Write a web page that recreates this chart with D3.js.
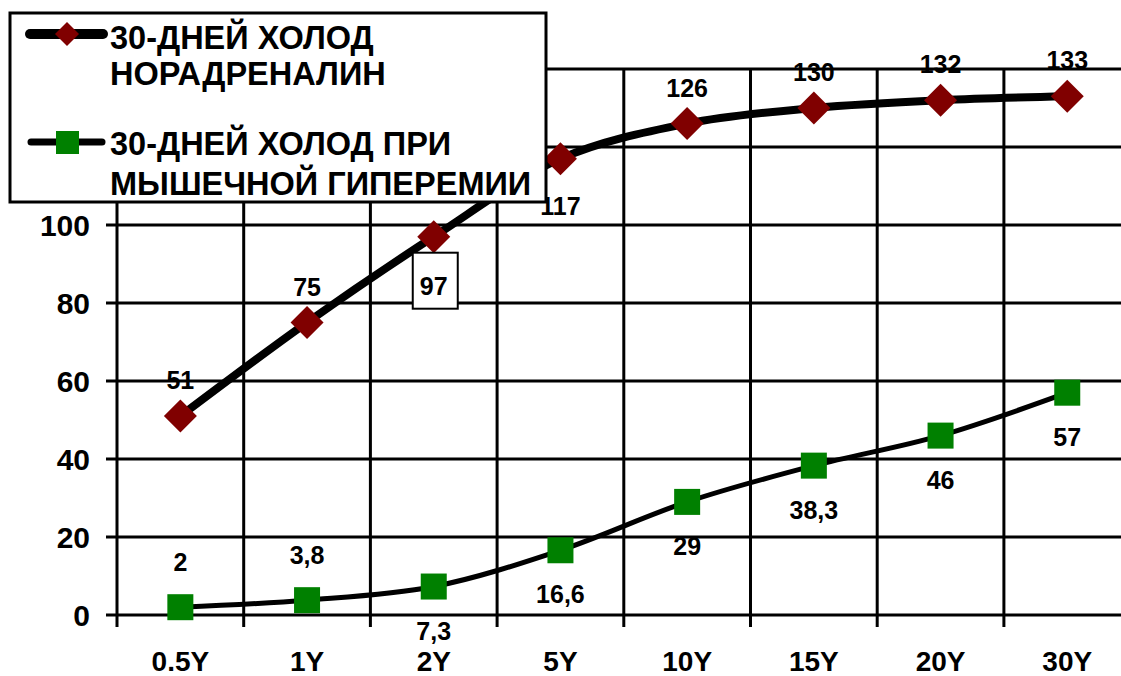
<!DOCTYPE html>
<html>
<head>
<meta charset="utf-8">
<script src="https://cdn.jsdelivr.net/npm/d3@7"></script>
<style>
  body { margin: 0; background: #fff; }
  text { font-family: "Liberation Sans", Arial, sans-serif; font-weight: bold; fill: #000; }
</style>
</head>
<body>
<svg id="chart" width="1121" height="676"></svg>
<script>
// Data
const categories = ["0.5Y", "1Y", "2Y", "5Y", "10Y", "15Y", "20Y", "30Y"];
const noradrenaline = [51, 75, 97, 117, 126, 130, 132, 133];
const hyperemia = [2, 3.8, 7.3, 16.6, 29, 38.3, 46, 57];
const yTickValues = [0, 20, 40, 60, 80, 100, 120, 140];
const legendNoradrenaline = ["30-ДНЕЙ ХОЛОД", "НОРАДРЕНАЛИН"];
const legendHyperemia = ["30-ДНЕЙ ХОЛОД ПРИ", "МЫШЕЧНОЙ ГИПЕРЕМИИ"];

const svg = d3.select("#chart");
const W = 1121, H = 676;
svg.append("rect").attr("width", W).attr("height", H).attr("fill", "#fff");

const x = d3.scaleBand().domain(categories).range([117, 1130.6]).paddingInner(0).paddingOuter(0);
const y = d3.scaleLinear().domain([0, 140]).range([615, 69]);
const cx = c => x(c) + x.bandwidth() / 2;

const locale = d3.formatLocale({ decimal: ",", thousands: " ", grouping: [3], currency: ["", ""] });
const fmt = v => Number.isInteger(v) ? String(v) : locale.format(".1f")(v);

const darkRed = "#800000", green = "#008000";

// Grid: horizontal lines with left tick stubs
const grid = svg.append("g");
grid.selectAll("line.h").data(yTickValues).join("line")
  .attr("x1", 106).attr("x2", W + 20)
  .attr("y1", d => y(d)).attr("y2", d => y(d))
  .attr("stroke", "#000").attr("stroke-width", 3);

// Vertical lines at category boundaries, extending below the baseline as ticks
const bounds = categories.map(c => x(c)).concat([x.range()[1]]);
grid.selectAll("line.v").data(bounds).join("line")
  .attr("x1", d => d).attr("x2", d => d)
  .attr("y1", y(140)).attr("y2", 627)
  .attr("stroke", "#000").attr("stroke-width", 3);

// Y axis labels
const yAxis = d3.axisLeft(y).tickValues(yTickValues).tickSize(0).tickPadding(0);
const yg = svg.append("g").attr("transform", "translate(90,0)").call(yAxis);
yg.select(".domain").remove();
yg.selectAll("text").attr("font-size", 30).attr("dy", "0.36em")
  .style("font-family", "'Liberation Sans', Arial, sans-serif").style("font-weight", "bold");

// X axis labels
const xAxis = d3.axisBottom(x).tickSize(0).tickPadding(0);
const xg = svg.append("g").attr("transform", "translate(0,651)").call(xAxis);
xg.select(".domain").remove();
xg.selectAll("text").attr("font-size", 28).attr("dy", "0.72em")
  .style("font-family", "'Liberation Sans', Arial, sans-serif").style("font-weight", "bold");

// Lines
const lineGen = d3.line()
  .x((d, i) => cx(categories[i]))
  .y(d => y(d))
  .curve(d3.curveCatmullRom.alpha(0.5));

svg.append("path").datum(hyperemia).attr("d", lineGen)
  .attr("fill", "none").attr("stroke", "#000").attr("stroke-width", 5);
svg.append("path").datum(noradrenaline).attr("d", lineGen)
  .attr("fill", "none").attr("stroke", "#000").attr("stroke-width", 8);

// Markers
const diamond = (r) => `M0,${-r}L${r},0L0,${r}L${-r},0Z`;
svg.selectAll("path.dia").data(noradrenaline).join("path")
  .attr("class", "dia")
  .attr("transform", (d, i) => `translate(${cx(categories[i])},${y(d)})`)
  .attr("d", diamond(16.5)).attr("fill", darkRed);

svg.selectAll("rect.sq").data(hyperemia).join("rect")
  .attr("class", "sq")
  .attr("x", (d, i) => cx(categories[i]) - 13)
  .attr("y", d => y(d) - 13)
  .attr("width", 26).attr("height", 26).attr("fill", green);

// Data labels
const labelSize = 25;
const baseShift = 0.36 * labelSize;

// Noradrenaline: labels above, except the 2Y and 5Y points
noradrenaline.forEach((v, i) => {
  const px = cx(categories[i]), py = y(v);
  let c;
  if (i === 2) c = py + 49;
  else if (i === 3) c = py + 47;
  else c = py - 36;
  if (i === 2) {
    svg.append("rect").attr("x", px - 21).attr("y", c - 33).attr("width", 45).attr("height", 56)
      .attr("fill", "#fff").attr("stroke", "#000").attr("stroke-width", 2);
  }
  svg.append("text").attr("x", px).attr("y", c + baseShift)
    .attr("text-anchor", "middle").attr("font-size", labelSize).text(fmt(v));
});

// Hyperemia: first two labels above, the rest below
hyperemia.forEach((v, i) => {
  const px = cx(categories[i]), py = y(v);
  const c = i < 2 ? py - 45 : py + 44;
  svg.append("text").attr("x", px).attr("y", c + baseShift)
    .attr("text-anchor", "middle").attr("font-size", labelSize).text(fmt(v));
});

// Legend
const lg = svg.append("g");
lg.append("rect").attr("x", 10).attr("y", 13).attr("width", 536).attr("height", 189)
  .attr("fill", "#fff").attr("stroke", "#000").attr("stroke-width", 3);

lg.append("line").attr("x1", 30).attr("x2", 103).attr("y1", 34).attr("y2", 34)
  .attr("stroke", "#000").attr("stroke-width", 10).attr("stroke-linecap", "round");
lg.append("path").attr("transform", "translate(67,34)").attr("d", diamond(12)).attr("fill", darkRed);

lg.append("line").attr("x1", 31).attr("x2", 102).attr("y1", 142).attr("y2", 142)
  .attr("stroke", "#000").attr("stroke-width", 7).attr("stroke-linecap", "round");
lg.append("rect").attr("x", 56).attr("y", 131).attr("width", 23).attr("height", 23).attr("fill", green);

const legendSize = 32.5;
const legendRows = [
  { lines: legendNoradrenaline, centers: [37, 73] },
  { lines: legendHyperemia, centers: [143, 183] }
];
legendRows.forEach(r => {
  r.lines.forEach((t, j) => {
    lg.append("text").attr("x", 110).attr("y", r.centers[j] + 0.36 * legendSize)
      .attr("font-size", legendSize).text(t);
  });
});
</script>
</body>
</html>
